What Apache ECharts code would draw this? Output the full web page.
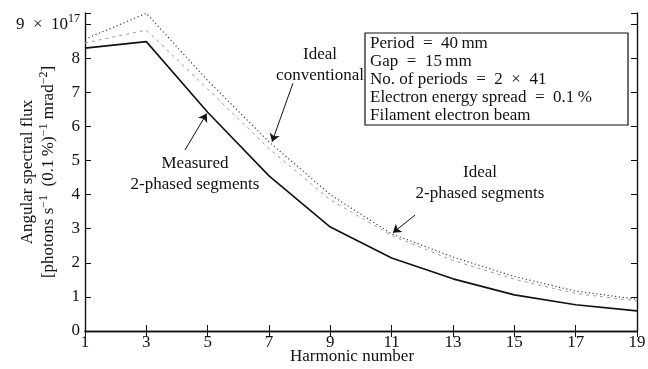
<!DOCTYPE html>
<html>
<head>
<meta charset="utf-8">
<script src="https://cdn.jsdelivr.net/npm/echarts@6/dist/echarts.min.js"></script>
<style>html,body{margin:0;padding:0;background:#fff;}#c{width:648px;height:369px;}</style>
</head>
<body>
<div id="c"></div>
<script>
const harmonics = [1, 3, 5, 7, 9, 11, 13, 15, 17, 19];
const measured = [8.3, 8.49, 6.42, 4.55, 3.05, 2.14, 1.53, 1.06, 0.77, 0.59];
const idealConventional = [8.56, 9.32, 7.35, 5.55, 4.0, 2.85, 2.17, 1.6, 1.17, 0.93];
const idealTwoPhased = [8.45, 8.83, 7.1, 5.35, 3.85, 2.8, 2.07, 1.52, 1.1, 0.88];
const xTicks = [1, 3, 5, 7, 9, 11, 13, 15, 17, 19];
const yTicks = [0, 1, 2, 3, 4, 5, 6, 7, 8, 9];
const infoLines = ['Period\u2002=\u200240\u2009mm', 'Gap\u2002=\u200215\u2009mm', 'No. of periods\u2002=\u20022\u2002\u00d7\u200241', 'Electron energy spread\u2002=\u20020.1\u2009%', 'Filament electron beam'];

const FONT = '"Liberation Serif", "DejaVu Serif", serif';
const INK = '#111';
const pair = (xs, ys) => xs.map((x, i) => [x, ys[i]]);

const chart = echarts.init(document.getElementById('c'), null, {renderer: 'canvas'});

const axisCommon = {
  axisLine: {show: true, lineStyle: {color: INK, width: 1.4}},
  axisTick: {show: true, inside: true, length: 6, lineStyle: {color: INK, width: 1}},
  splitLine: {show: false}
};

const arrowLine = (x1, y1, x2, y2) => [{coord: [x1, y1]}, {coord: [x2, y2]}];
const txt = (x, y, s) => ({type: 'text', x: x, y: y, style: {text: s, fontFamily: FONT, fontSize: 17, fill: INK, textAlign: 'center'}});

chart.setOption({
  animation: false,
  backgroundColor: '#fff',
  grid: {left: 85, right: 11, top: 13, bottom: 38, containLabel: false, outerBoundsMode: 'none'},
  xAxis: [
    Object.assign({
      type: 'value', min: 1, max: 19, interval: 2, position: 'bottom',
      axisLabel: {fontFamily: FONT, fontSize: 17, color: INK, margin: 3,
        formatter: v => xTicks.includes(v) ? String(v) : ''}
    }, axisCommon),
    Object.assign({
      type: 'value', min: 1, max: 19, interval: 2, position: 'top',
      axisLabel: {show: false}
    }, axisCommon)
  ],
  yAxis: [
    Object.assign({
      type: 'value', min: 0, max: 9.33, interval: 1, position: 'left',
      axisLabel: {
        fontFamily: FONT, fontSize: 17, color: INK, margin: 5,
        formatter: v => {
          if (!yTicks.includes(v)) return '';
          if (v === 9) return '{a|9\u2002\u00d7\u200210}{s|17}';
          return String(v);
        },
        rich: {
          a: {fontFamily: FONT, fontSize: 17, color: INK},
          s: {fontFamily: FONT, fontSize: 12, color: INK, padding: [0, 0, 10, 0]}
        }
      }
    }, axisCommon),
    Object.assign({
      type: 'value', min: 0, max: 9.33, interval: 1, position: 'right',
      axisLabel: {show: false}
    }, axisCommon)
  ],
  series: [
    {
      name: 'Ideal 2-phased segments', type: 'line', data: pair(harmonics, idealTwoPhased),
      symbol: 'none', lineStyle: {color: '#9a9a9a', width: 1, type: [3, 4]}, z: 2
    },
    {
      name: 'Ideal conventional', type: 'line', data: pair(harmonics, idealConventional),
      symbol: 'none', lineStyle: {color: '#333', width: 1.1, type: [1.2, 2.6]}, z: 3
    },
    {
      name: 'Measured 2-phased segments', type: 'line', data: pair(harmonics, measured),
      symbol: 'none', lineStyle: {color: INK, width: 1.6}, z: 4,
      markLine: {
        silent: true, symbol: ['none', 'arrow'], symbolSize: 8,
        label: {show: false},
        lineStyle: {color: INK, width: 1, type: 'solid'},
        data: [
          arrowLine(4.26, 5.31, 4.97, 6.38),
          arrowLine(7.78, 7.27, 7.1, 5.55),
          arrowLine(11.76, 3.4, 11.04, 2.88)
        ]
      }
    }
  ],
  graphic: [
    {type: 'text', x: 38, y: 172, rotation: Math.PI / 2,
      style: {
        text: '{a|Angular spectral flux}\n{a|[photons s}{s|\u22121}{a|  (0.1\u2009%)}{s|\u22121}{a| mrad}{s|\u22122}{a|]}',
        fontFamily: FONT, fontSize: 17, fill: INK, align: 'center', verticalAlign: 'middle', lineHeight: 21,
        rich: {
          a: {fontFamily: FONT, fontSize: 17, fill: INK, lineHeight: 21},
          s: {fontFamily: FONT, fontSize: 12, fill: INK, verticalAlign: 'top', lineHeight: 21, padding: [0, 0, 8, 0]}
        }
      }},
    txt(352, 348, 'Harmonic number'),
    txt(320, 46, 'Ideal'),
    txt(320, 67, 'conventional'),
    txt(195, 155, 'Measured'),
    txt(195, 176, '2-phased segments'),
    txt(480, 164, 'Ideal'),
    txt(480, 185, '2-phased segments'),
    {type: 'rect', shape: {x: 365, y: 33, width: 263, height: 92},
      style: {fill: '#fff', stroke: INK, lineWidth: 1.2}, z: 10},
    {type: 'text', x: 370, y: 35, z: 11,
      style: {text: infoLines.join('\n'), fontFamily: FONT, fontSize: 17, lineHeight: 18, fill: INK}}
  ]
});
</script>
</body>
</html>
